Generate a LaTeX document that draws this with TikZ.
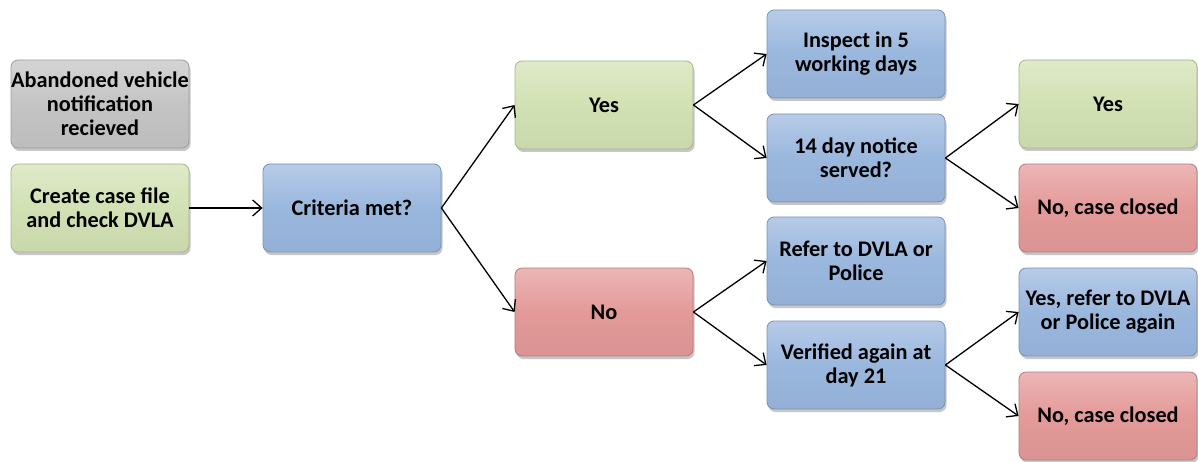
\documentclass[tikz,border=0pt]{standalone}
\usepackage{fontspec}
\setmainfont{Carlito}
\usetikzlibrary{arrows.meta,shadows}
\definecolor{cgray}{HTML}{C4C4C4}
\definecolor{cgreen}{HTML}{D2E1B3}
\definecolor{cblue}{HTML}{9AB7DE}
\definecolor{cred}{HTML}{E39A99}
\tikzset{
  box/.style={rectangle, rounded corners=7pt, minimum width=178pt, minimum height=88pt,
    align=center, inner sep=0pt,
    font=\fontsize{22.3}{24}\selectfont\bfseries,
    drop shadow={shadow xshift=1.5pt, shadow yshift=-3pt, fill=black, opacity=0.22}},
  graybox/.style={box, draw=cgray!80!black, line width=0.8pt, top color=cgray!72!white, bottom color=cgray!96!black, middle color=cgray},
  greenbox/.style={box, draw=cgreen!80!black, line width=0.8pt, top color=cgreen!72!white, bottom color=cgreen!96!black, middle color=cgreen},
  bluebox/.style={box, draw=cblue!80!black, line width=0.8pt, top color=cblue!72!white, bottom color=cblue!96!black, middle color=cblue},
  redbox/.style={box, draw=cred!80!black, line width=0.8pt, top color=cred!72!white, bottom color=cred!96!black, middle color=cred},
  conn/.style={draw=black, line width=1.3pt, -{Straight Barb[length=9pt,width=16pt,line width=1.3pt]}}
}
\begin{document}
\begin{tikzpicture}[x=1pt,y=-1pt]
\useasboundingbox (0,0) rectangle (1198,462);
\node[graybox]  (ab)  at (100,104) {Abandoned vehicle\\notification\\recieved};
\node[greenbox] (cr)  at (100,208) {Create case file\\and check DVLA};
\node[bluebox]  (cm)  at (352,208) {Criteria met?};
\node[greenbox] (yes) at (604,105) {Yes};
\node[redbox]   (no)  at (604,312) {No};
\node[bluebox]  (insp) at (856,54) {Inspect in 5\\working days};
\node[bluebox]  (ntc)  at (856,158) {14 day notice\\served?};
\node[bluebox]  (ref)  at (856,261) {Refer to DVLA or\\Police};
\node[bluebox]  (ver)  at (856,365) {Verified again at\\day 21};
\node[greenbox] (y2)  at (1108,104) {Yes};
\node[redbox]   (nc1) at (1108,208) {No, case closed};
\node[bluebox]  (yr)  at (1108,312) {Yes, refer to DVLA\\or Police again};
\node[redbox]   (nc2) at (1108,416) {No, case closed};
\draw[conn] (cr.east) -- (cm.west);
\draw[conn] (cm.east) -- (yes.west);
\draw[conn] (cm.east) -- (no.west);
\draw[conn] (yes.east) -- (insp.west);
\draw[conn] (yes.east) -- (ntc.west);
\draw[conn] (no.east) -- (ref.west);
\draw[conn] (no.east) -- (ver.west);
\draw[conn] (ntc.east) -- (y2.west);
\draw[conn] (ntc.east) -- (nc1.west);
\draw[conn] (ver.east) -- (yr.west);
\draw[conn] (ver.east) -- (nc2.west);
\end{tikzpicture}
\end{document}
